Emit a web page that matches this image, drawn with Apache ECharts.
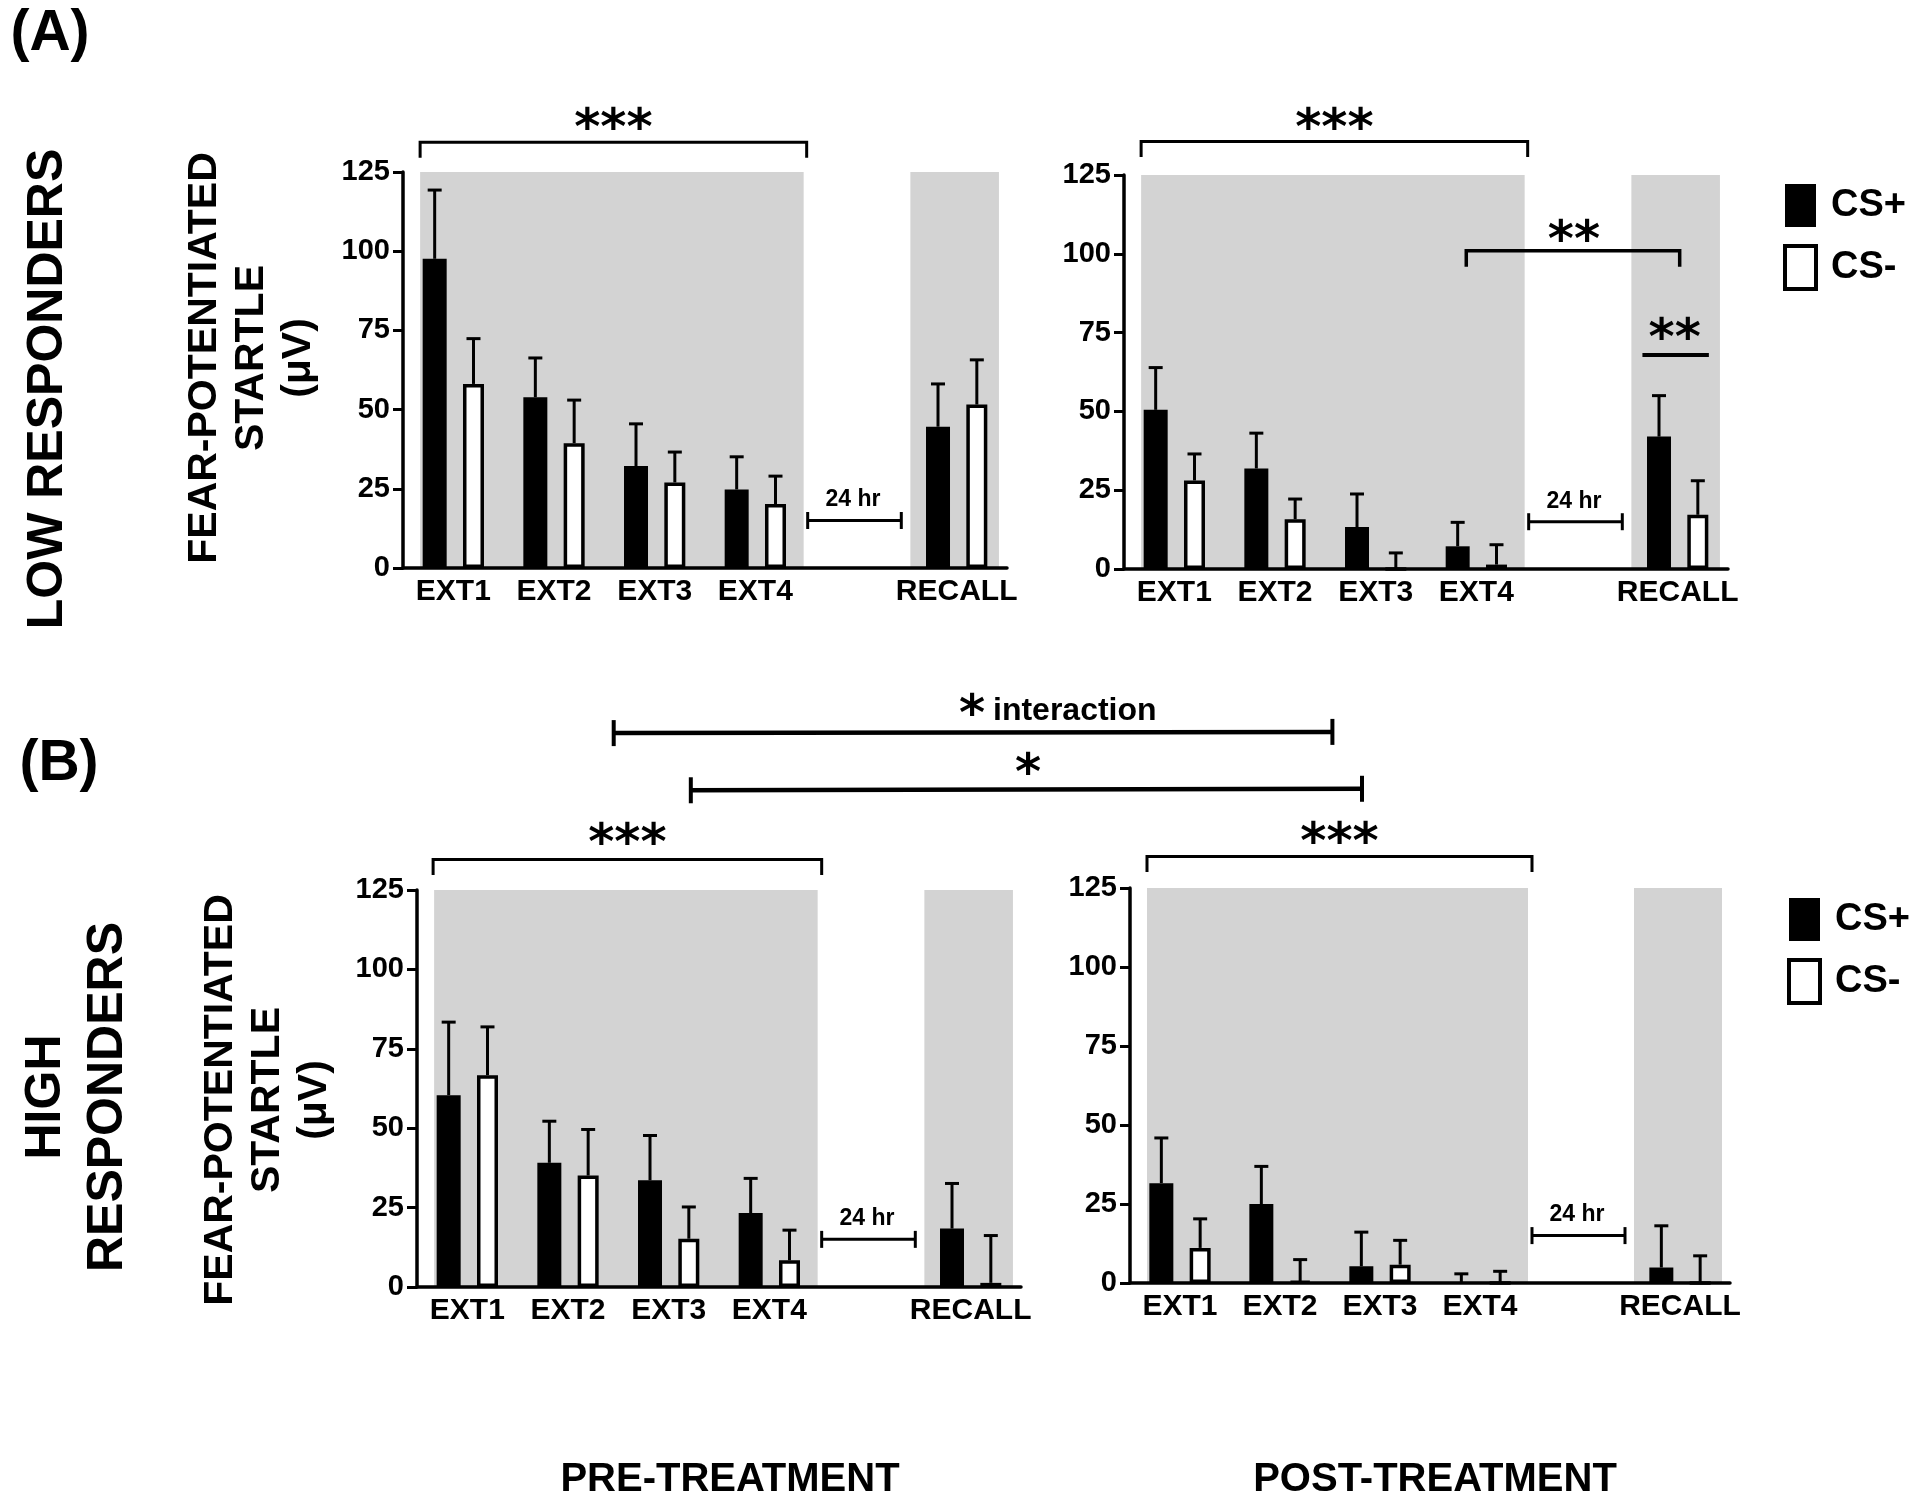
<!DOCTYPE html>
<html>
<head>
<meta charset="utf-8">
<script src="https://cdn.jsdelivr.net/npm/echarts@6/dist/echarts.min.js"></script>
<style>
html,body{margin:0;padding:0;background:#fff;}
#c{width:1920px;height:1503px;}
</style>
</head>
<body>
<div id="c"></div>
<script>
// ---------------- data ----------------
const categories = ['EXT1', 'EXT2', 'EXT3', 'EXT4', '', 'RECALL'];
const yTicks = [0, 25, 50, 75, 100, 125];

// (A) low responders, pre-treatment
const lowPrePlus     = [97.6, 53.9, 32.2, 24.8, null, 44.6];
const lowPrePlusErr  = [21.7, 12.4, 13.3, 10.3, null, 13.5];
const lowPreMinus    = [58.1, 39.4, 27.0, 20.2, null, 51.6];
const lowPreMinusErr = [14.3, 13.6, 9.6, 8.8, null, 14.1];
// (A) low responders, post-treatment
const lowPostPlus     = [50.5, 31.9, 13.3, 7.2, null, 42.0];
const lowPostPlusErr  = [13.4, 11.2, 10.5, 7.6, null, 13.0];
const lowPostMinus    = [28.1, 15.8, 0, 1.4, null, 17.2];
const lowPostMinusErr = [8.4, 6.4, 5.1, 6.3, null, 10.8];
// (B) high responders, pre-treatment
const highPrePlus     = [60.4, 39.1, 33.6, 23.3, null, 18.4];
const highPrePlusErr  = [23.0, 13.1, 14.1, 10.9, null, 14.2];
const highPreMinus    = [66.7, 35.1, 15.2, 8.4, null, 1.3];
const highPreMinusErr = [15.2, 14.5, 10.0, 9.5, null, 14.9];
// (B) high responders, post-treatment
const highPostPlus     = [31.6, 25.0, 5.3, 0, null, 4.9];
const highPostPlusErr  = [14.3, 11.9, 10.8, 2.9, null, 13.2];
const highPostMinus    = [11.1, 0.5, 5.8, 0, null, 0];
const highPostMinusErr = [9.2, 6.9, 7.7, 3.7, null, 8.6];

// shaded session ranges (category-index units)
const shadeRanges = [[-0.33, 3.48], [4.54, 5.42]];

// ---------------- layout ----------------
const FONT = '"Liberation Sans", Arial, Helvetica, sans-serif';
const STARFONT = '"DejaVu Sans", sans-serif';
const grids = [
  {left: 403, top: 172, width: 604, height: 396},
  {left: 1124, top: 175, width: 604, height: 394},
  {left: 417, top: 890, width: 604, height: 397},
  {left: 1130, top: 888, width: 600, height: 395}
];
const panels = [
  [lowPrePlus, lowPrePlusErr, lowPreMinus, lowPreMinusErr],
  [lowPostPlus, lowPostPlusErr, lowPostMinus, lowPostMinusErr],
  [highPrePlus, highPrePlusErr, highPreMinus, highPreMinusErr],
  [highPostPlus, highPostPlusErr, highPostMinus, highPostMinusErr]
];

const BW_PLUS = 24, BW_MINUS = 21, GAP = 0.68;
const total = BW_PLUS + BW_PLUS * GAP + BW_MINUS;
const offPlus = -total / 2 + BW_PLUS / 2;
const offMinus = -total / 2 + BW_PLUS + BW_PLUS * GAP + BW_MINUS / 2;

function errRenderer(off) {
  return function (params, api) {
    const i = api.value(0), m = api.value(1), e = api.value(2);
    const p0 = api.coord([i, m]);
    const p1 = api.coord([i, m + e]);
    const x = p0[0] + off;
    return {
      type: 'group',
      children: [
        {type: 'line', shape: {x1: x, y1: p0[1], x2: x, y2: p1[1]}, style: {stroke: '#000', lineWidth: 3}},
        {type: 'line', shape: {x1: x - 7, y1: p1[1], x2: x + 7, y2: p1[1]}, style: {stroke: '#000', lineWidth: 3}}
      ]
    };
  };
}
function shadeRenderer(params, api) {
  const a = api.coord([api.value(0), 125]);
  const b = api.coord([api.value(1), 0]);
  return {type: 'rect', shape: {x: a[0], y: a[1], width: b[0] - a[0], height: b[1] - a[1]}, style: {fill: '#d3d3d3'}};
}
function errData(vals, errs) {
  const out = [];
  vals.forEach((v, i) => { if (v !== null) out.push([i, v, errs[i]]); });
  return out;
}

const xAxes = [], yAxes = [], series = [];
grids.forEach((g, gi) => {
  xAxes.push({
    type: 'category', gridIndex: gi, data: categories,
    axisLine: {show: true, onZero: false, lineStyle: {color: '#000', width: 3.5}},
    axisTick: {show: false},
    axisLabel: {interval: 0, color: '#000', fontSize: 30, fontWeight: 'bold', fontFamily: FONT, margin: 9},
    splitLine: {show: false}
  });
  xAxes.push({type: 'value', gridIndex: gi, min: -0.5, max: 5.5, show: false,
    axisLine: {onZero: false}});
  yAxes.push({
    type: 'value', gridIndex: gi, min: 0, max: 125, interval: 25,
    axisLine: {show: true, onZero: false, lineStyle: {color: '#000', width: 3.5}},
    axisTick: {show: true, length: 10, lineStyle: {color: '#000', width: 3}},
    axisLabel: {color: '#000', fontSize: 29, fontWeight: 'bold', fontFamily: FONT, margin: 13,
      formatter: v => yTicks.includes(v) ? String(v) : ''},
    splitLine: {show: false}
  });
  const d = panels[gi];
  series.push({
    type: 'custom', xAxisIndex: 2 * gi + 1, yAxisIndex: gi, silent: true, z: 0,
    renderItem: shadeRenderer, data: shadeRanges, clip: false
  });
  series.push({
    name: 'CS+', type: 'bar', xAxisIndex: 2 * gi, yAxisIndex: gi, data: d[0],
    barWidth: BW_PLUS, barGap: (GAP * 100) + '%', z: 3,
    itemStyle: {color: '#000'}
  });
  series.push({
    name: 'CS-', type: 'bar', xAxisIndex: 2 * gi, yAxisIndex: gi, data: d[2],
    barWidth: BW_MINUS, barGap: (GAP * 100) + '%', z: 3,
    itemStyle: {color: '#fff', borderColor: '#000', borderWidth: 3.5}
  });
  series.push({
    type: 'custom', xAxisIndex: 2 * gi, yAxisIndex: gi, z: 4, silent: true, clip: false,
    renderItem: errRenderer(offPlus), data: errData(d[0], d[1])
  });
  series.push({
    type: 'custom', xAxisIndex: 2 * gi, yAxisIndex: gi, z: 4, silent: true, clip: false,
    renderItem: errRenderer(offMinus), data: errData(d[2], d[3])
  });
});

const legendBase = {
  orient: 'vertical', icon: 'rect', itemWidth: 31, itemHeight: 43, itemGap: 17, selectedMode: false,
  padding: 0,
  textStyle: {fontSize: 38, fontWeight: 'bold', color: '#000', fontFamily: FONT, padding: [0, 0, 0, 10]},
  data: [
    {name: 'CS+', itemStyle: {color: '#000', borderWidth: 0}},
    {name: 'CS-', itemStyle: {color: '#fff', borderColor: '#000', borderWidth: 4}}
  ]
};

const chart = echarts.init(document.getElementById('c'), null, {renderer: 'canvas'});
chart.setOption({
  animation: false,
  backgroundColor: '#fff',
  grid: grids.map(g => Object.assign({containLabel: false}, g)),
  xAxis: xAxes,
  yAxis: yAxes,
  legend: [
    Object.assign({left: 1783, top: 184}, legendBase),
    Object.assign({left: 1787, top: 898}, legendBase)
  ],
  series: series
});

// ---------------- annotations ----------------
function P(g, x, y) { return chart.convertToPixel({xAxisIndex: 2 * g + 1, yAxisIndex: g}, [x, y]); }
const gr = [];
function txt(x, y, text, size, opts) {
  gr.push({
    type: 'text', x: x, y: y, z: 50,
    style: Object.assign({text: text, fontSize: size, fontWeight: 'bold', fontFamily: FONT, fill: '#000',
      align: 'center', verticalAlign: 'middle'}, opts || {})
  });
}
function rtxt(x, y, text, size, lh) {
  gr.push({
    type: 'text', x: x, y: y, rotation: Math.PI / 2, z: 50,
    style: {text: text, fontSize: size, fontWeight: 'bold', fontFamily: FONT, fill: '#000',
      align: 'center', verticalAlign: 'middle', lineHeight: lh || size}
  });
}
function poly(pts, w) {
  gr.push({type: 'polyline', z: 50, shape: {points: pts}, style: {stroke: '#000', lineWidth: w, fill: null}});
}
function stars(x, y, s) { txt(x, y + 11, s, 50, {fontFamily: STARFONT}); }

// session brackets with down ticks
const sessionBracket = [
  {g: 0, x0: -0.33, x1: 3.51, y: 134.4, ty: 141.3},
  {g: 1, x0: -0.33, x1: 3.51, y: 135.6, ty: 142.3},
  {g: 2, x0: -0.34, x1: 3.52, y: 134.6, ty: 142.3},
  {g: 3, x0: -0.33, x1: 3.52, y: 135.0, ty: 142.0}
];
sessionBracket.forEach(b => {
  const a = P(b.g, b.x0, b.y), c = P(b.g, b.x1, b.y);
  poly([[a[0], a[1] + 15.5], a, c, [c[0], c[1] + 15.5]], 3);
  const t = P(b.g, (b.x0 + b.x1) / 2, b.ty);
  stars(t[0], t[1], '***');
});
// 24 hr brackets
[0, 1, 2, 3].forEach(g => {
  const a = P(g, 3.52, 15), c = P(g, 4.45, 15);
  poly([a, c], 3);
  poly([[a[0], a[1] - 8.5], [a[0], a[1] + 8.5]], 3);
  poly([[c[0], c[1] - 8.5], [c[0], c[1] + 8.5]], 3);
  const t = P(g, 3.97, 21.5);
  txt(t[0], t[1], '24 hr', 23);
});
// post-treatment low responders: EXT4 vs RECALL, and RECALL CS+ vs CS-
{
  const a = P(1, 2.90, 101), c = P(1, 5.02, 101);
  poly([[a[0], a[1] + 16], a, c, [c[0], c[1] + 16]], 3.5);
  const t = P(1, 3.97, 107);
  stars(t[0], t[1], '**');
  const d = P(1, 4.65, 67.9), e = P(1, 5.31, 67.9);
  poly([d, e], 4);
  const t2 = P(1, 4.97, 75.8);
  stars(t2[0], t2[1], '**');
}
// between-panel brackets (high responders)
{
  const a = P(2, 1.454, 174.4), c = P(3, 1.524, 174.4);
  poly([a, c], 4.5);
  poly([[a[0], a[1] - 13], [a[0], a[1] + 13]], 4);
  poly([[c[0], c[1] - 13], [c[0], c[1] + 13]], 4);
  stars(972, 706, '*');
  txt(993, 711, 'interaction', 32, {align: 'left'});
  const d = P(2, 2.22, 156.4), e = P(3, 1.82, 156.4);
  poly([d, e], 4.5);
  poly([[d[0], d[1] - 13], [d[0], d[1] + 13]], 4);
  poly([[e[0], e[1] - 13], [e[0], e[1] + 13]], 4);
  stars(1028, 765, '*');
}
// panel letters, row titles, axis titles
txt(50, 34, '(A)', 57);
txt(59, 764, '(B)', 57);
rtxt(48, 389, 'LOW RESPONDERS', 50);
rtxt(77, 1097, 'HIGH\nRESPONDERS', 50, 62);
rtxt(252, 358, 'FEAR-POTENTIATED\nSTARTLE\n(\u03bcV)', 41, 47);
rtxt(268, 1100, 'FEAR-POTENTIATED\nSTARTLE\n(\u03bcV)', 41, 47);
txt(730, 1480, 'PRE-TREATMENT', 40);
txt(1435, 1480, 'POST-TREATMENT', 40);

chart.setOption({graphic: {elements: gr}});
</script>
</body>
</html>
